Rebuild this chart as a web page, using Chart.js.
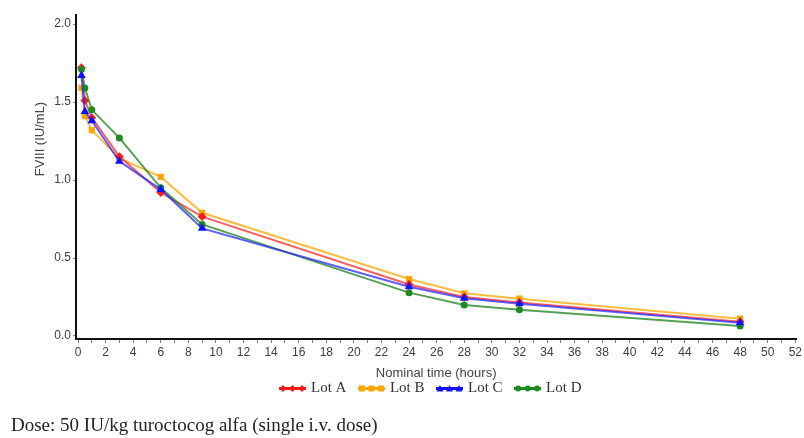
<!DOCTYPE html>
<html>
<head>
<meta charset="utf-8">
<script src="https://cdn.jsdelivr.net/npm/chart.js@4"></script>
<style>
  html, body { margin: 0; padding: 0; background: #fff; }
  #wrap { position: relative; width: 804px; height: 438px; }
  #c { position: absolute; left: 0; top: 0; }
  #caption { position: absolute; left: 11px; top: 414px; font-family: "Liberation Serif", "Times New Roman", serif; font-size: 19px; color: #222; white-space: nowrap; }
</style>
</head>
<body>
<div id="wrap">
  <canvas id="c" width="804" height="420"></canvas>
  <div id="caption">Dose: 50 IU/kg turoctocog alfa (single i.v. dose)</div>
</div>
<script>
// Nominal sampling times (hours)
const times = [0.25, 0.5, 1, 3, 6, 9, 24, 28, 32, 48];
// FVIII activity (IU/mL) per lot
const lotA = [1.72, 1.51, 1.40, 1.15, 0.92, 0.765, 0.330, 0.250, 0.215, 0.092];
const lotB = [1.59, 1.41, 1.32, 1.14, 1.02, 0.790, 0.365, 0.274, 0.239, 0.111];
const lotC = [1.67, 1.44, 1.38, 1.12, 0.94, 0.690, 0.316, 0.242, 0.207, 0.085];
const lotD = [1.71, 1.59, 1.45, 1.27, 0.95, 0.715, 0.278, 0.199, 0.169, 0.064];
const seriesNames = ["Lot A", "Lot B", "Lot C", "Lot D"];
const yTickValues = [0, 0.5, 1.0, 1.5, 2.0];
const xTickValues = Array.from({length: 53}, (_, i) => i); // 0..52, labels every 2
const xTitle = "Nominal time (hours)";
const yTitle = "FVIII (IU/mL)";

const colors = ["#ff1a1a", "#ffa500", "#1010ff", "#1f8a1f"];
const lineColors = ["rgba(255,40,40,0.75)", "rgba(255,165,0,0.75)", "rgba(40,40,255,0.75)", "rgba(30,130,30,0.75)"];
const shapes = ["rectRot", "rect", "triangle", "circle"];
const radii = [3, 3, 3, 2.5];
const values = [lotA, lotB, lotC, lotD];

function markerPath(ctx, shape, x, y, r) {
  ctx.beginPath();
  if (shape === "rect") { ctx.rect(x - r, y - r, 2 * r, 2 * r); }
  else if (shape === "rectRot") { ctx.moveTo(x, y - r - 0.5); ctx.lineTo(x + r + 0.5, y); ctx.lineTo(x, y + r + 0.5); ctx.lineTo(x - r - 0.5, y); ctx.closePath(); }
  else if (shape === "triangle") { ctx.moveTo(x, y - r - 0.5); ctx.lineTo(x + r + 0.5, y + r); ctx.lineTo(x - r - 0.5, y + r); ctx.closePath(); }
  else { ctx.arc(x, y, r, 0, Math.PI * 2); }
  ctx.fill();
}
function legendImage(i) {
  const cv = document.createElement("canvas");
  cv.width = 27; cv.height = 9;
  const g = cv.getContext("2d");
  g.strokeStyle = colors[i]; g.lineWidth = 3;
  g.beginPath(); g.moveTo(0, 4.5); g.lineTo(27, 4.5); g.stroke();
  g.fillStyle = colors[i];
  [4, 13.5, 23].forEach(x => markerPath(g, shapes[i], x, 4.5, 3));
  return cv;
}
const legendImgs = [0, 1, 2, 3].map(legendImage);

const datasets = seriesNames.map((name, i) => ({
  label: name,
  data: times.map((t, k) => ({x: t, y: values[i][k]})),
  borderColor: lineColors[i],
  backgroundColor: colors[i],
  pointBackgroundColor: colors[i],
  pointBorderColor: colors[i],
  pointStyle: shapes[i],
  pointRadius: radii[i],
  borderWidth: 2,
  tension: 0,
  order: [2, 3, 0, 1][i]
}));

const yTitlePlugin = {
  id: "yTitlePlugin",
  afterLayout(chart) {
    // nudge the legend closer to the x-axis title and centre it under the plot
    const lg = chart.legend;
    if (lg) {
      lg.top -= 14; lg.bottom -= 14;
      lg.left += 28; lg.right += 28;
    }
  },
  afterDraw(chart) {
    const ctx = chart.ctx;
    ctx.save();
    ctx.translate(40, 139);
    ctx.rotate(-Math.PI / 2);
    ctx.font = "13px 'Liberation Sans', Arial, sans-serif";
    ctx.fillStyle = "#444";
    ctx.textAlign = "center";
    ctx.textBaseline = "middle";
    ctx.fillText(yTitle, 0, 0);
    ctx.restore();
  }
};

new Chart(document.getElementById("c"), {
  type: "line",
  data: { datasets },
  plugins: [yTitlePlugin],
  options: {
    responsive: false,
    animation: false,
    layout: { padding: { left: 10, right: 7, top: 15, bottom: 0 } },
    plugins: {
      tooltip: { enabled: false },
      legend: {
        position: "bottom",
        labels: {
          usePointStyle: true,
          pointStyleWidth: 22,
          padding: 14,
          color: "#333",
          font: { family: "'Liberation Serif', 'Times New Roman', serif", size: 15 },
          generateLabels(chart) {
            return chart.data.datasets.map((ds, i) => ({
              text: ds.label,
              fillStyle: colors[i],
              strokeStyle: colors[i],
              lineWidth: 0,
              pointStyle: legendImgs[i],
              hidden: false,
              datasetIndex: i,
              fontColor: "#333"
            }));
          }
        }
      }
    },
    scales: {
      x: {
        type: "linear",
        min: -0.145,
        max: 52.07,
        afterBuildTicks(axis) { axis.ticks = xTickValues.map(v => ({value: v})); },
        ticks: {
          autoSkip: false,
          maxRotation: 0,
          padding: 2,
          color: "#3c3c4e",
          font: { family: "'Liberation Sans', Arial, sans-serif", size: 12 },
          callback: (v) => (v % 2 === 0 ? String(v) : "")
        },
        grid: { display: true, drawOnChartArea: false, drawTicks: true, tickLength: 4, color: "#888", tickColor: "#888" },
        border: { display: true, color: "#111", width: 2 },
        title: {
          display: true,
          text: xTitle,
          color: "#444",
          padding: { top: 4, bottom: 0 },
          font: { family: "'Liberation Sans', Arial, sans-serif", size: 13 }
        }
      },
      y: {
        type: "linear",
        min: -0.0193,
        max: 2.058,
        afterBuildTicks(axis) { axis.ticks = yTickValues.map(v => ({value: v})); },
        afterFit(scale) { scale.width = 66; },
        ticks: {
          padding: 2,
          color: "#3c3c4e",
          font: { family: "'Liberation Sans', Arial, sans-serif", size: 12 },
          callback: (v) => Number(v).toFixed(1)
        },
        grid: { display: true, drawOnChartArea: false, drawTicks: true, tickLength: 3, color: "#888", tickColor: "#888" },
        border: { display: true, color: "#111", width: 2 }
      }
    }
  }
});
</script>
</body>
</html>
